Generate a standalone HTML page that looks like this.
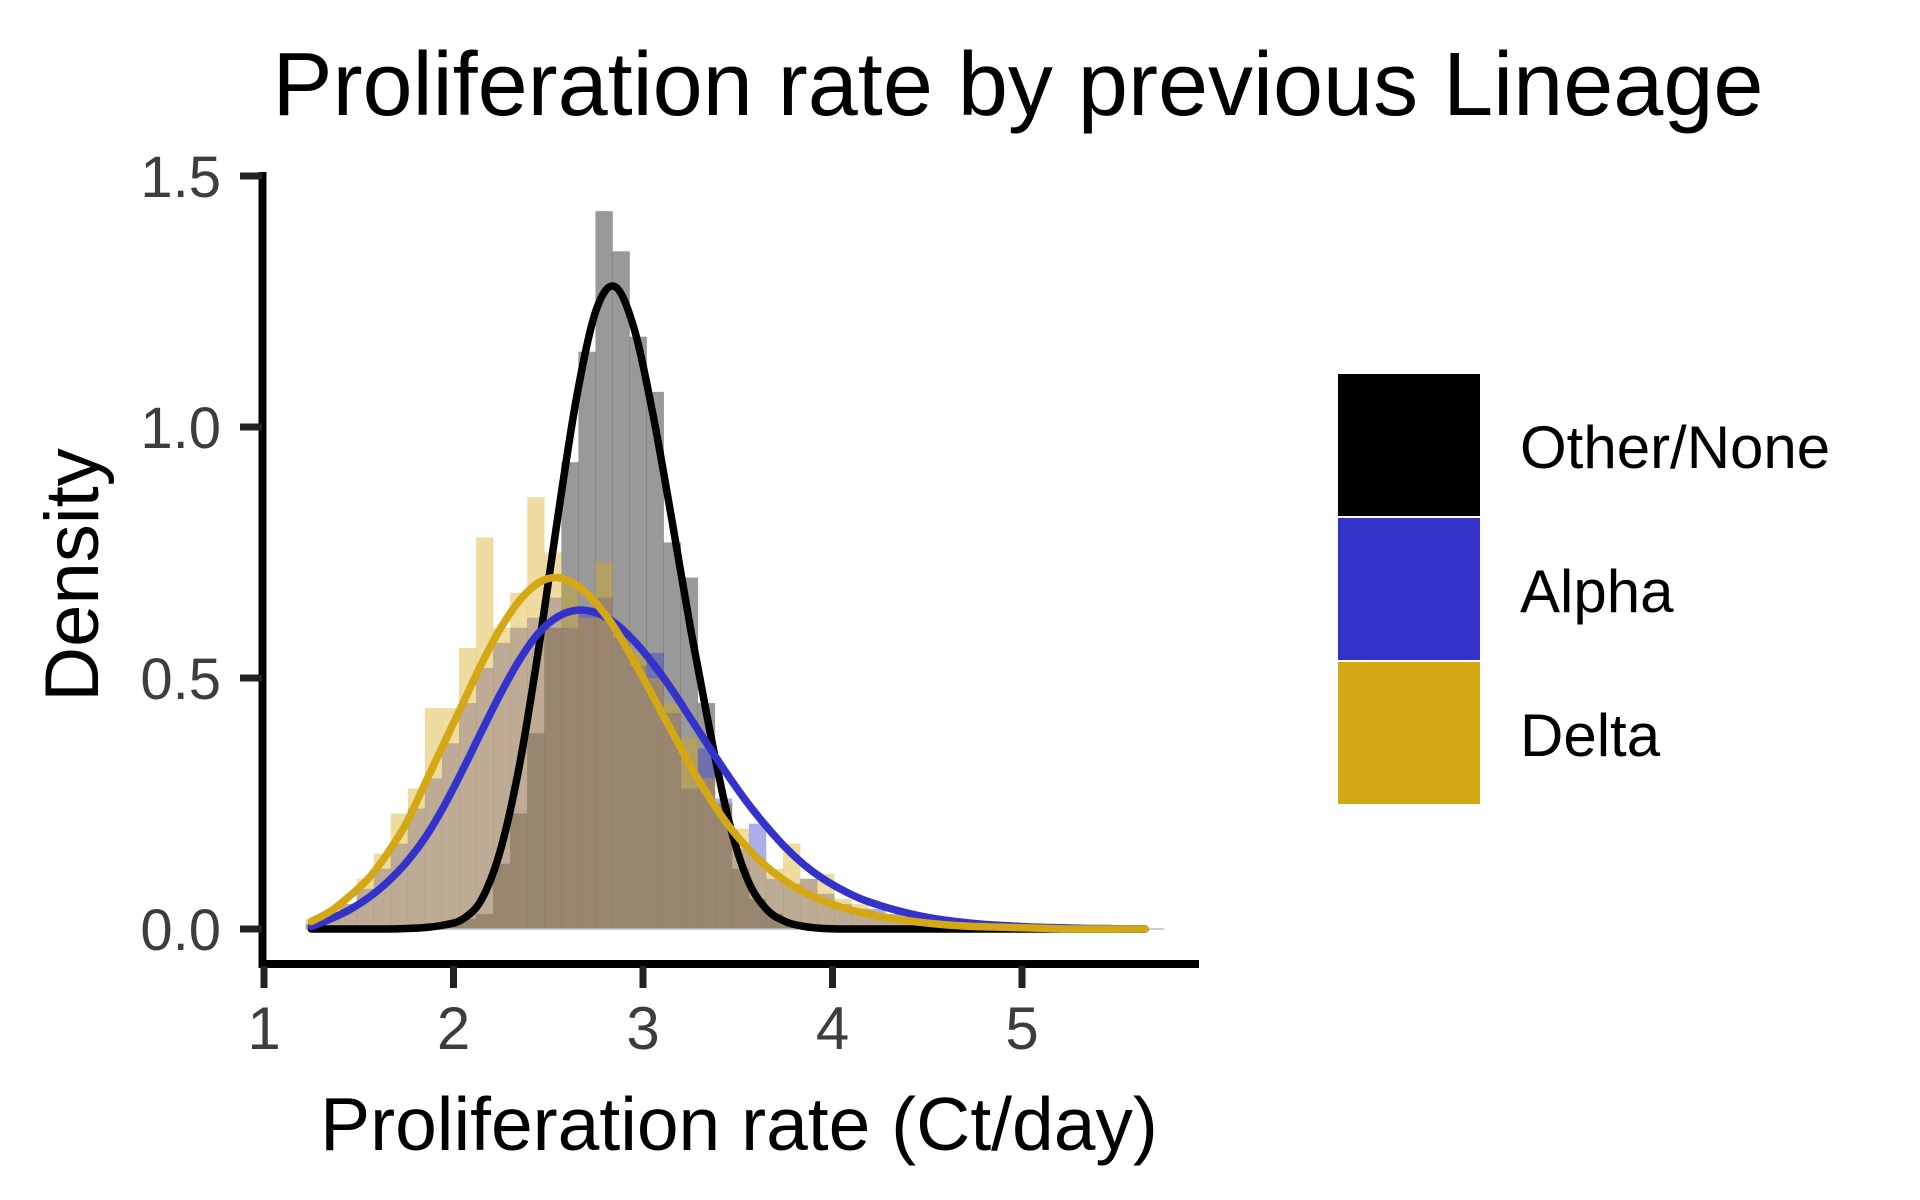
<!DOCTYPE html>
<html><head><meta charset="utf-8"><style>
html,body{margin:0;padding:0;background:#fff;}
svg{display:block;font-family:"Liberation Sans",Arial,sans-serif;}
</style></head><body>
<svg id="chart" width="1920" height="1200" viewBox="0 0 1920 1200">
<text x="1018" y="115" font-size="90" text-anchor="middle" fill="#000">Proliferation rate by previous Lineage</text>
<g id="hist"></g>
<g id="curves"></g>
<g id="axes"></g>
<text transform="translate(98,575) rotate(-90)" font-size="76" text-anchor="middle" fill="#000">Density</text>
<text x="739" y="1150" font-size="75" text-anchor="middle" fill="#000">Proliferation rate (Ct/day)</text>
<g>
<rect x="1338" y="374" width="142" height="142" fill="#000"/>
<rect x="1338" y="518" width="142" height="142" fill="#3333CC"/>
<rect x="1338" y="662" width="142" height="142" fill="#D4A714"/>
<text x="1520" y="468" font-size="60" fill="#000">Other/None</text>
<text x="1520" y="612" font-size="60" fill="#000">Alpha</text>
<text x="1520" y="756" font-size="60" fill="#000">Delta</text>
</g>
</svg>
<script>
// ---- data ----
const binStart = 1.219;
const binWidth = 0.09;
const histOther = [0,0,0,0,0,0,0,0,0.01,0.02,0.03,0.13,0.23,0.39,0.6,0.93,1.15,1.43,1.35,1.18,1.07,0.77,0.70,0.45,0.25,0.12,0.06,0.03,0.01,0,0,0,0,0,0,0,0,0,0,0,0,0,0,0,0,0,0,0,0];
const histAlpha = [0.01,0.03,0.05,0.08,0.12,0.17,0.24,0.3,0.37,0.45,0.52,0.57,0.6,0.62,0.66,0.6,0.64,0.66,0.58,0.525,0.55,0.43,0.28,0.36,0.26,0.16,0.21,0.1,0.09,0.1,0.07,0.05,0.04,0.04,0.03,0.02,0.01,0.01,0.005,0.005,0,0,0,0,0,0,0,0,0];
const histDelta = [0.02,0.03,0.05,0.1,0.15,0.23,0.28,0.44,0.44,0.56,0.78,0.6,0.67,0.86,0.75,0.69,0.62,0.73,0.6,0.55,0.5,0.45,0.38,0.3,0.25,0.2,0.14,0.12,0.17,0.1,0.11,0.06,0.05,0.03,0.02,0.02,0.01,0.01,0.005,0,0,0,0,0,0,0,0,0,0];
const curveX = [1.25,1.35,1.45,1.55,1.65,1.75,1.85,1.95,2.05,2.15,2.25,2.35,2.45,2.55,2.65,2.75,2.85,2.95,3.05,3.15,3.25,3.35,3.45,3.55,3.65,3.75,3.85,3.95,4.05,4.15,4.25,4.35,4.45,4.55,4.65,4.75,4.85,4.95,5.05,5.15,5.25,5.35,5.45,5.55,5.65];
const curveOther = [0,0,0,0,0,0.001,0.003,0.008,0.02,0.06,0.16,0.33,0.56,0.82,1.06,1.23,1.28,1.2,1.03,0.82,0.6,0.4,0.22,0.1,0.04,0.015,0.005,0.001,0,0,0,0,0,0,0,0,0,0,0,0,0,0,0,0,0];
const curveAlpha = [0.005,0.02,0.038,0.062,0.093,0.132,0.182,0.245,0.318,0.395,0.47,0.537,0.59,0.622,0.635,0.63,0.61,0.575,0.53,0.478,0.42,0.362,0.305,0.252,0.205,0.163,0.128,0.1,0.078,0.06,0.047,0.036,0.027,0.02,0.015,0.011,0.008,0.006,0.004,0.003,0.002,0.001,0.001,0,0];
const curveDelta = [0.015,0.035,0.065,0.1,0.15,0.21,0.29,0.37,0.45,0.53,0.6,0.655,0.69,0.7,0.685,0.65,0.6,0.535,0.465,0.395,0.325,0.262,0.207,0.162,0.125,0.096,0.073,0.056,0.043,0.033,0.025,0.019,0.014,0.01,0.007,0.005,0.004,0.003,0.002,0.001,0,0,0,0,0];
const xTicks = [1,2,3,4,5];
const yTicks = [0,0.5,1.0,1.5];
const yTickLabels = ["0.0","0.5","1.0","1.5"];

// ---- scales ----
const xs = v => 264 + (v - 1) * 189.5;
const ys = v => 929 - v * 502;
const NS = "http://www.w3.org/2000/svg";
function mk(tag, parent) { const e = document.createElementNS(NS, tag); parent.appendChild(e); return e; }

const hist = document.getElementById('hist');
function drawHist(vals, color, name) {
  vals.forEach((v, i) => {
    if (v <= 0) return;
    const r = mk('rect', hist);
    
    
    const x0 = xs(binStart + i * binWidth), x1 = xs(binStart + (i + 1) * binWidth);
    r.setAttribute('x', x0); r.setAttribute('width', x1 - x0 + 0.3);
    r.setAttribute('y', ys(v)); r.setAttribute('height', ys(0) - ys(v));
    r.setAttribute('fill', color); r.setAttribute('fill-opacity', '0.4');
  });
}
drawHist(histOther, '#000000', 'other');
drawHist(histAlpha, '#3333CC', 'alpha');
drawHist(histDelta, '#D4A714', 'delta');

const base = mk('line', hist);


base.setAttribute('x1', xs(1.22)); base.setAttribute('x2', xs(5.75));
base.setAttribute('y1', ys(0)); base.setAttribute('y2', ys(0));
base.setAttribute('stroke', '#bbb'); base.setAttribute('stroke-width', '1.5');

const curves = document.getElementById('curves');
function smoothPath(xv, yv) {
  const p = xv.map((x, i) => [xs(x), ys(yv[i])]);
  let d = 'M' + p[0][0] + ',' + p[0][1];
  for (let i = 0; i < p.length - 1; i++) {
    const p0 = p[Math.max(0, i - 1)], p1 = p[i], p2 = p[i + 1], p3 = p[Math.min(p.length - 1, i + 2)];
    const c1 = [p1[0] + (p2[0] - p0[0]) / 6, p1[1] + (p2[1] - p0[1]) / 6];
    const c2 = [p2[0] - (p3[0] - p1[0]) / 6, p2[1] - (p3[1] - p1[1]) / 6];
    d += 'C' + c1 + ' ' + c2 + ' ' + p2;
  }
  return d;
}
function drawCurve(yv, color, name) {
  const pa = mk('path', curves);
  
  
  pa.setAttribute('d', smoothPath(curveX, yv));
  pa.setAttribute('fill', 'none'); pa.setAttribute('stroke', color);
  pa.setAttribute('stroke-width', '7.5'); pa.setAttribute('stroke-linejoin', 'round'); pa.setAttribute('stroke-linecap', 'round');
}
drawCurve(curveOther, '#000000', 'other-density-curve');
drawCurve(curveAlpha, '#3333CC', 'alpha-density-curve');
drawCurve(curveDelta, '#D4A714', 'delta-density-curve');

const axes = document.getElementById('axes');
const ya = mk('line', axes);


ya.setAttribute('x1', 262.5); ya.setAttribute('x2', 262.5); ya.setAttribute('y1', 172); ya.setAttribute('y2', 968);
ya.setAttribute('stroke', '#000'); ya.setAttribute('stroke-width', '8');
const xa = mk('line', axes);


xa.setAttribute('x1', 258.5); xa.setAttribute('x2', 1199); xa.setAttribute('y1', 964); xa.setAttribute('y2', 964);
xa.setAttribute('stroke', '#000'); xa.setAttribute('stroke-width', '8');

yTicks.forEach((v, i) => {
  const t = mk('line', axes);
  
  
  t.setAttribute('x1', 240); t.setAttribute('x2', 262); t.setAttribute('y1', ys(v)); t.setAttribute('y2', ys(v));
  t.setAttribute('stroke', '#222'); t.setAttribute('stroke-width', '7');
  const l = mk('text', axes);
  
  
  l.setAttribute('x', 221); l.setAttribute('y', ys(v) + 21);
  l.setAttribute('text-anchor', 'end'); l.setAttribute('font-size', '58'); l.setAttribute('fill', '#3d3d3d');
  l.textContent = yTickLabels[i];
});
xTicks.forEach(v => {
  const t = mk('line', axes);
  
  
  t.setAttribute('x1', xs(v)); t.setAttribute('x2', xs(v)); t.setAttribute('y1', 966); t.setAttribute('y2', 988);
  t.setAttribute('stroke', '#222'); t.setAttribute('stroke-width', '7');
  const l = mk('text', axes);
  
  
  l.setAttribute('x', xs(v)); l.setAttribute('y', 1049);
  l.setAttribute('text-anchor', 'middle'); l.setAttribute('font-size', '60'); l.setAttribute('fill', '#3d3d3d');
  l.textContent = String(v);
});
</script>
</body></html>
